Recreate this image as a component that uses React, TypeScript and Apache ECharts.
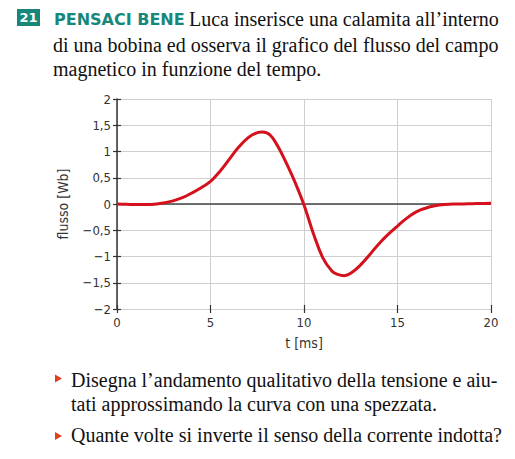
import React, { useEffect, useRef } from "react";
import * as echarts from "echarts";

const timeMs = [0, 0.5, 1, 1.5, 2, 2.5, 3, 3.5, 4, 4.5, 5, 5.5, 6, 6.5, 7, 7.4, 7.8, 8.2, 8.6, 9, 9.5, 10, 10.5, 11, 11.5, 11.8, 12.15, 12.5, 13, 13.5, 14, 14.5, 15, 15.5, 16, 16.5, 17, 17.5, 18, 18.5, 19, 19.5, 20];
const fluxWb = [0, -0.005, -0.01, -0.01, -0.005, 0.02, 0.06, 0.12, 0.21, 0.31, 0.43, 0.62, 0.85, 1.08, 1.26, 1.345, 1.37, 1.31, 1.1, 0.82, 0.43, -0.02, -0.56, -1.02, -1.28, -1.34, -1.365, -1.32, -1.17, -0.97, -0.76, -0.58, -0.42, -0.27, -0.15, -0.08, -0.035, -0.01, 0, 0, 0.005, 0.01, 0.015];
const yTicks = { min: -2, max: 2, step: 0.5 };
const xTicks = { min: 0, max: 20, step: 5 };

const exerciseNumber = "21";
const exerciseTag = "PENSACI BENE";
const headerLines = [
  "Luca inserisce una calamita all\u2019interno",
  "di una bobina ed osserva il grafico del flusso del campo",
  "magnetico in funzione del tempo.",
];
const bulletLines = [
  "Disegna l\u2019andamento qualitativo della tensione e aiu-",
  "tati approssimando la curva con una spezzata.",
  "Quante volte si inverte il senso della corrente indotta?",
];

const SERIF = "Liberation Serif, Times New Roman, serif";
const AXF = "DejaVu Sans Condensed, DejaVu Sans, sans-serif";
const TEAL = "#17877a";
const BULLET = "#e0401c";

export default function App() {
  const ref = useRef<HTMLDivElement>(null);
  useEffect(() => {
    document.body.style.margin = "0";
    const chart = echarts.init(ref.current!, null, { renderer: "svg" });
    const fmtY = (v: number) => String(v).replace(".", ",").replace("-", "\u2212");
    const baseY = { type: "value" as const, min: yTicks.min, max: yTicks.max, interval: yTicks.step };
    const baseX = { type: "value" as const, min: xTicks.min, max: xTicks.max, interval: xTicks.step, position: "bottom" as const };
    const serifText = (x: number, y: number, text: string) => ({
      type: "text",
      x,
      y,
      style: { text, fill: "#111", fontFamily: SERIF, fontSize: 20, align: "left", verticalAlign: "middle" },
    });
    chart.setOption({
      animation: false,
      grid: { left: 117, right: 24, top: 99, bottom: 150, containLabel: false },
      xAxis: [
        {
          ...baseX,
          name: "t [ms]",
          nameLocation: "middle",
          nameGap: 27,
          nameTextStyle: { fontFamily: AXF, fontSize: 14, color: "#333" },
          axisLine: { show: false, onZero: false },
          axisTick: { show: true, inside: false, length: 4, lineStyle: { color: "#333", width: 1.2 } },
          axisLabel: { margin: 7, fontFamily: AXF, fontSize: 13, color: "#333" },
          splitLine: { show: true, lineStyle: { color: "#cfcfcf", width: 1 } },
        },
        {
          ...baseX,
          axisLine: { show: false, onZero: false },
          axisTick: { show: true, inside: true, length: 4, lineStyle: { color: "#333", width: 1.2 } },
          axisLabel: { show: false },
          splitLine: { show: false },
        },
      ],
      yAxis: [
        {
          ...baseY,
          name: "flusso [Wb]",
          nameLocation: "middle",
          nameGap: 47,
          nameTextStyle: { fontFamily: AXF, fontSize: 14, color: "#333" },
          axisLine: { show: true, lineStyle: { color: "#333", width: 1.5 } },
          axisTick: { show: true, inside: false, length: 4, lineStyle: { color: "#333", width: 1.2 } },
          axisLabel: { margin: 6, fontFamily: AXF, fontSize: 13, color: "#333", formatter: fmtY },
          splitLine: { show: true, lineStyle: { color: "#cfcfcf", width: 1 } },
        },
        {
          ...baseY,
          position: "left",
          axisLine: { show: false },
          axisTick: { show: true, inside: true, length: 4, lineStyle: { color: "#333", width: 1.2 } },
          axisLabel: { show: false },
          splitLine: { show: false },
        },
      ],
      series: [
        {
          type: "line",
          data: timeMs.map((t, i) => [t, fluxWb[i]]),
          smooth: 0.4,
          symbol: "none",
          lineStyle: { color: "#d4111d", width: 3 },
          z: 5,
          markLine: {
            silent: true,
            symbol: "none",
            label: { show: false },
            lineStyle: { color: "#444", width: 1.5, type: "solid" },
            data: [{ yAxis: 0 }],
            z: 3,
          },
        },
      ],
      graphic: [
        { type: "rect", shape: { x: 17, y: 9, width: 23, height: 17 }, style: { fill: TEAL } },
        {
          type: "text",
          x: 28.5,
          y: 17.5,
          style: { text: exerciseNumber, fill: "#fff", fontFamily: "DejaVu Sans", fontWeight: "bold", fontSize: 13, align: "center", verticalAlign: "middle" },
        },
        {
          type: "text",
          x: 54,
          y: 19,
          style: { text: exerciseTag, fill: TEAL, fontFamily: "DejaVu Sans", fontWeight: "bold", fontSize: 16, align: "left", verticalAlign: "middle" },
        },
        serifText(189, 19, headerLines[0]),
        serifText(53, 44.5, headerLines[1]),
        serifText(53, 69, headerLines[2]),
        { type: "polygon", shape: { points: [[55, 374.5], [62, 378.5], [55, 382.5]] }, style: { fill: BULLET } },
        serifText(71, 380, bulletLines[0]),
        serifText(71, 403.5, bulletLines[1]),
        { type: "polygon", shape: { points: [[55, 432], [62, 436], [55, 440]] }, style: { fill: BULLET } },
        serifText(71, 435, bulletLines[2]),
      ],
    });
    return () => chart.dispose();
  }, []);
  return <div ref={ref} style={{ position: "absolute", left: 0, top: 0, width: 515, height: 459, background: "#fff" }} />;
}
